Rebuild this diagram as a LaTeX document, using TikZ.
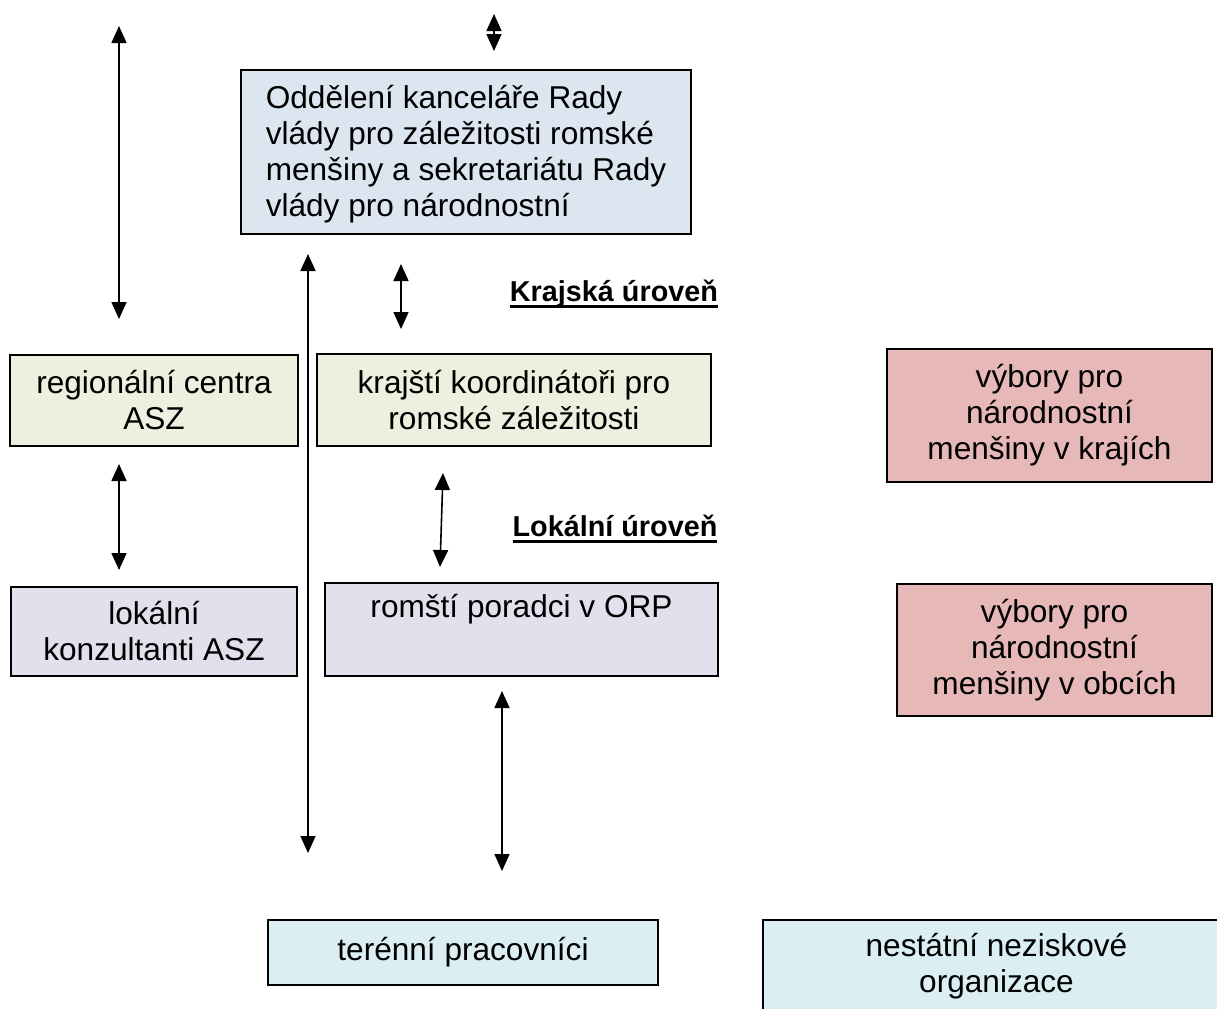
\documentclass[tikz,border=0pt]{standalone}
\usepackage{fontspec}
\setmainfont{Liberation Sans}
\usetikzlibrary{arrows.meta, positioning}
\definecolor{boxblue}{RGB}{220,230,241}
\definecolor{boxgreen}{RGB}{235,241,222}
\definecolor{boxlilac}{RGB}{228,223,236}
\definecolor{boxred}{RGB}{230,184,183}
\definecolor{boxcyan}{RGB}{218,238,243}
\newcommand{\levelul}[1]{\setbox0\hbox{#1}\rlap{\rule[-3.2pt]{\wd0}{1.4pt}}\box0}

\begin{document}
\begin{tikzpicture}[x=0.5pt, y=-0.5pt,
    box/.style={rectangle, draw, line width=1pt, inner sep=0pt, align=center, font=\fontsize{15.8}{18}\selectfont},
    link/.style={{Triangle[length=8.5pt,width=7.5pt]}-{Triangle[length=8.5pt,width=7.5pt]}, line width=0.8pt},
    level/.style={font=\fontsize{14.4}{17}\selectfont\bfseries}]

    \useasboundingbox (0,0) rectangle (1217,1008);

    % Central office
    \node[box, fill=boxblue, align=left, minimum width=225pt, minimum height=82pt] (office) at (466,152) {\rule{0pt}{14pt}Oddělení kanceláře Rady\\vlády pro záležitosti romské\\menšiny a sekretariátu Rady\\vlády pro národnostní};

    % Regional level
    \node[level] (kraj) at (614,294) {\levelul{Krajská úroveň}};
    \node[box, fill=boxgreen, minimum width=144pt, minimum height=45.5pt] (regc) at (154,400.5) {regionální centra\\ASZ};
    \node[box, fill=boxgreen, minimum width=197pt, minimum height=46pt] (krajk) at (514,400) {krajští koordinátoři pro\\romské záležitosti};
    \node[box, fill=boxred, minimum width=162.5pt, minimum height=66.5pt] (vybkraj) at (1049.5,415.5) {výbory pro\\národnostní\\menšiny v krajích};

    % Local level
    \node[level] (lok) at (615,529) {\levelul{Lokální úroveň}};
    \node[box, fill=boxlilac, minimum width=143pt, minimum height=44.5pt] (lokk) at (154,631.5) {lokální\\konzultanti ASZ};
    \node[box, fill=boxlilac, minimum width=196.5pt, minimum height=46.5pt] (romp) at (521.5,629.5) {romští poradci v ORP\\ \strut};
    \node[box, fill=boxred, minimum width=157.5pt, minimum height=66pt] (vybobc) at (1054.5,650) {výbory pro\\národnostní\\menšiny v obcích};

    % Field
    \node[box, fill=boxcyan, minimum width=195pt, minimum height=32.5pt] (teren) at (463,952.5) {terénní pracovníci};
    \node[box, fill=boxcyan, minimum width=233.5pt, minimum height=66pt] (nno) at (996.5,986) {nestátní neziskové\\organizace\\ \strut};

    % Arrow ends
    \coordinate (topA) at (494,14);
    \coordinate (topB) at (494,51);
    \coordinate (leftA) at (119,26);
    \coordinate (leftB) at (119,319);
    \coordinate (longA) at (308,254);
    \coordinate (longB) at (308,853);
    \coordinate (krA) at (401,264);
    \coordinate (krB) at (401,329);
    \coordinate (asA) at (119,464);
    \coordinate (asB) at (119,570);
    \coordinate (koA) at (443,473);
    \coordinate (koB) at (440,567);
    \coordinate (poA) at (502,691);
    \coordinate (poB) at (502,871);

    \draw[link] (topA) -- (topB);
    \draw[link] (leftA) -- (leftB);
    \draw[link] (longA) -- (longB);
    \draw[link] (krA) -- (krB);
    \draw[link] (asA) -- (asB);
    \draw[link] (koA) -- (koB);
    \draw[link] (poA) -- (poB);

\end{tikzpicture}
\end{document}
